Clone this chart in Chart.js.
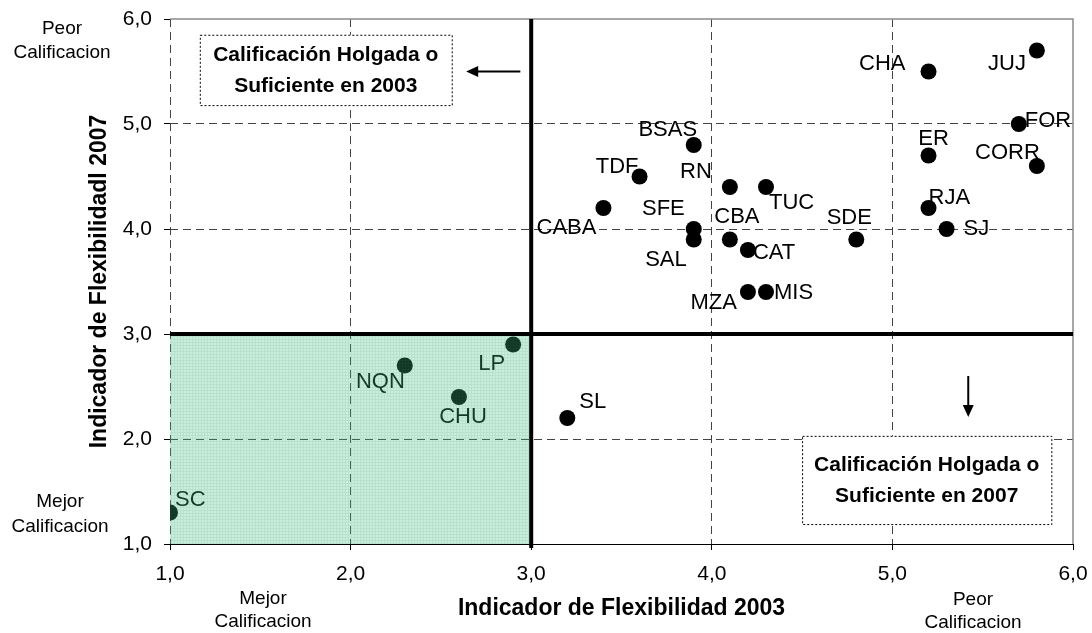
<!DOCTYPE html>
<html>
<head>
<meta charset="utf-8">
<script src="https://cdn.jsdelivr.net/npm/chart.js@4.4.1/dist/chart.umd.min.js"></script>
<style>
  body { margin: 0; background: #fff; }
  canvas { display: block; }
</style>
</head>
<body>
<canvas id="flexChart" width="1092" height="633"></canvas>
<script>
const provincias = ['SC', 'NQN', 'CHU', 'LP', 'SL', 'CABA', 'TDF', 'BSAS', 'SFE', 'SAL', 'RN', 'TUC',
  'CBA', 'CAT', 'MZA', 'MIS', 'SDE', 'CHA', 'JUJ', 'FOR', 'ER', 'CORR', 'RJA', 'SJ'];
const flex2003 = [1.0, 2.3, 2.6, 2.9, 3.2, 3.4, 3.6, 3.9, 3.9, 3.9, 4.1, 4.3,
  4.1, 4.2, 4.2, 4.3, 4.8, 5.2, 5.8, 5.7, 5.2, 5.8, 5.2, 5.3];
const flex2007 = [1.3, 2.7, 2.4, 2.9, 2.2, 4.2, 4.5, 4.8, 4.0, 3.9, 4.4, 4.4,
  3.9, 3.8, 3.4, 3.4, 3.9, 5.5, 5.7, 5.0, 4.7, 4.6, 4.2, 4.0];
const ejeTicks = [1, 2, 3, 4, 5, 6];
const corte = 3; // thick split lines + green zone up to here

// where each name sits next to its dot: [align, dx, dy] in px
const etiquetaPos = [
  ['left', 5, -13], ['right', 0, 16], ['center', 4, 20], ['right', -8, 19], ['left', 12, -16],
  ['right', -7, 20], ['right', -1, -10], ['center', -26, -15], ['right', -9, -20], ['right', -7, 20],
  ['right', -18, -15], ['left', 3, 16], ['center', 7, -23], ['left', 5, 3], ['right', -11, 11],
  ['left', 8, 1], ['center', -7, -22], ['right', -23, -8], ['right', -11, 13], ['left', 6, -3],
  ['center', 5, -17], ['right', 3, -13], ['left', 0, -10], ['left', 17, 0]
];

const FONT = 'Arial, "Liberation Sans", sans-serif';
const fmt = v => Number(v).toFixed(1).replace('.', ',');

const puntos = flex2003.map((x, i) => ({ x: x, y: flex2007[i] }));

const gridColor = (ctx, extra) => {
  if (!ctx.tick) return 'transparent';
  const v = ctx.tick.value;
  return (v === 2 || v === 4 || v === 5 || v === extra) ? '#444' : 'transparent';
};

// fine screen texture of the green zone
const tile = document.createElement('canvas');
tile.width = 3;
tile.height = 3;
const tctx = tile.getContext('2d');
tctx.fillStyle = 'rgba(64,190,128,0.28)';
tctx.fillRect(0, 0, 3, 3);
tctx.fillStyle = 'rgba(40,150,100,0.12)';
tctx.fillRect(0, 0, 3, 1);
tctx.fillRect(0, 1, 1, 2);

function caja(ctx, x1, y1, x2, y2, lineas) {
  ctx.save();
  ctx.fillStyle = '#fff';
  ctx.fillRect(x1, y1, x2 - x1, y2 - y1);
  ctx.setLineDash([2, 2]);
  ctx.strokeStyle = '#000';
  ctx.lineWidth = 1;
  ctx.strokeRect(x1 + 0.5, y1 + 0.5, x2 - x1, y2 - y1);
  ctx.setLineDash([]);
  ctx.fillStyle = '#000';
  ctx.font = 'bold 21px ' + FONT;
  ctx.textAlign = 'center';
  ctx.textBaseline = 'middle';
  const cx = (x1 + x2) / 2, cy = (y1 + y2) / 2;
  ctx.fillText(lineas[0], cx, cy - 15);
  ctx.fillText(lineas[1], cx, cy + 16);
  ctx.restore();
}

function flecha(ctx, x1, y1, x2, y2) {
  const ang = Math.atan2(y2 - y1, x2 - x1);
  ctx.save();
  ctx.strokeStyle = '#000';
  ctx.fillStyle = '#000';
  ctx.lineWidth = 2;
  ctx.beginPath();
  ctx.moveTo(x1, y1);
  ctx.lineTo(x2 - 8 * Math.cos(ang), y2 - 8 * Math.sin(ang));
  ctx.stroke();
  ctx.beginPath();
  ctx.moveTo(x2, y2);
  ctx.lineTo(x2 - 12 * Math.cos(ang) + 5.5 * Math.sin(ang), y2 - 12 * Math.sin(ang) - 5.5 * Math.cos(ang));
  ctx.lineTo(x2 - 12 * Math.cos(ang) - 5.5 * Math.sin(ang), y2 - 12 * Math.sin(ang) + 5.5 * Math.cos(ang));
  ctx.closePath();
  ctx.fill();
  ctx.restore();
}

const extras = {
  id: 'extras',
  afterDatasetsDraw(chart) {
    const { ctx, chartArea: a, scales: { x, y } } = chart;
    const meta = chart.getDatasetMeta(0);

    // names next to the dots
    ctx.save();
    ctx.font = '22px ' + FONT;
    ctx.fillStyle = '#000';
    ctx.textBaseline = 'middle';
    meta.data.forEach((p, i) => {
      const [al, dx, dy] = etiquetaPos[i];
      ctx.textAlign = al;
      ctx.fillText(provincias[i], p.x + dx, p.y + dy);
    });
    ctx.restore();

    // green zone (drawn on top, tints what is under it)
    const gx1 = x.getPixelForValue(ejeTicks[0]), gx2 = x.getPixelForValue(corte);
    const gy1 = y.getPixelForValue(corte), gy2 = y.getPixelForValue(ejeTicks[0]);
    ctx.save();
    ctx.fillStyle = ctx.createPattern(tile, 'repeat');
    ctx.fillRect(gx1, gy1, gx2 - gx1, gy2 - gy1);
    ctx.restore();

    // plot frame top/right
    ctx.save();
    ctx.strokeStyle = '#8a8a8a';
    ctx.lineWidth = 1.5;
    ctx.beginPath();
    ctx.moveTo(a.left, a.top);
    ctx.lineTo(a.right, a.top);
    ctx.lineTo(a.right, a.bottom);
    ctx.stroke();
    ctx.restore();

    // thick split lines
    ctx.save();
    ctx.strokeStyle = '#000';
    ctx.lineWidth = 4;
    ctx.beginPath();
    ctx.moveTo(a.left, gy1);
    ctx.lineTo(a.right, gy1);
    ctx.moveTo(gx2, a.top);
    ctx.lineTo(gx2, a.bottom + 4);
    ctx.stroke();
    ctx.restore();

    // note boxes + arrows
    caja(ctx, x.getPixelForValue(1.165), y.getPixelForValue(5.85), x.getPixelForValue(2.56), y.getPixelForValue(5.18),
      ['Calificación Holgada o', 'Suficiente en 2003']);
    caja(ctx, x.getPixelForValue(4.5), y.getPixelForValue(2.03), x.getPixelForValue(5.88), y.getPixelForValue(1.19),
      ['Calificación Holgada o', 'Suficiente en 2007']);
    flecha(ctx, x.getPixelForValue(2.94), y.getPixelForValue(5.5), x.getPixelForValue(2.64), y.getPixelForValue(5.5));
    flecha(ctx, x.getPixelForValue(5.42), y.getPixelForValue(2.6), x.getPixelForValue(5.42), y.getPixelForValue(2.21));
  },
  afterDraw(chart) {
    const { ctx } = chart;
    ctx.save();
    ctx.font = '19px ' + FONT;
    ctx.fillStyle = '#000';
    ctx.textAlign = 'center';
    ctx.textBaseline = 'middle';
    ctx.fillText('Peor', 62, 29);
    ctx.fillText('Calificacion', 62, 53);
    ctx.fillText('Mejor', 60, 502);
    ctx.fillText('Calificacion', 60, 527);
    ctx.fillText('Mejor', 263, 599);
    ctx.fillText('Calificacion', 263, 622);
    ctx.fillText('Peor', 973, 600);
    ctx.fillText('Calificacion', 973, 623);
    ctx.restore();
  }
};

const tickFont = { family: FONT, size: 21 };
const titleFont = { family: FONT, size: 23, weight: 'bold' };

new Chart(document.getElementById('flexChart'), {
  type: 'scatter',
  data: {
    datasets: [{
      data: puntos,
      backgroundColor: '#000',
      borderWidth: 0,
      pointRadius: 8,
      pointHoverRadius: 8
    }]
  },
  options: {
    responsive: false,
    animation: false,
    devicePixelRatio: 1,
    layout: { padding: { top: 19, right: 19, left: 0, bottom: 0 } },
    plugins: { legend: { display: false }, tooltip: { enabled: false } },
    scales: {
      x: {
        type: 'linear',
        min: 1,
        max: 6,
        afterBuildTicks: s => { s.ticks = ejeTicks.map(v => ({ value: v })); },
        afterFit: s => { s.height = 89; s.paddingLeft = 0; s.paddingRight = 0; },
        ticks: { callback: fmt, font: tickFont, color: '#000', padding: 12, maxRotation: 0 },
        grid: { color: ctx => gridColor(ctx, 1), lineWidth: 1, tickColor: '#000', tickLength: 6 },
        border: { display: true, color: '#000', width: 1, dash: [8, 5] },
        title: { display: true, text: 'Indicador de Flexibilidad 2003', font: titleFont, color: '#000',
          padding: { top: 0, bottom: 11 } }
      },
      y: {
        type: 'linear',
        min: 1,
        max: 6,
        afterBuildTicks: s => { s.ticks = ejeTicks.map(v => ({ value: v })); },
        afterFit: s => { s.width = 170; s.paddingTop = 0; s.paddingBottom = 0; },
        ticks: { callback: fmt, font: tickFont, color: '#000', padding: 12 },
        grid: { color: ctx => gridColor(ctx, null), lineWidth: 1, tickColor: '#000', tickLength: 6 },
        border: { display: false, dash: [8, 5] },
        title: { display: true, text: 'Indicador de Flexibilidadl 2007', font: titleFont, color: '#000',
          padding: { top: 86, bottom: 0 } }
      }
    }
  },
  plugins: [extras]
});
</script>
</body>
</html>
